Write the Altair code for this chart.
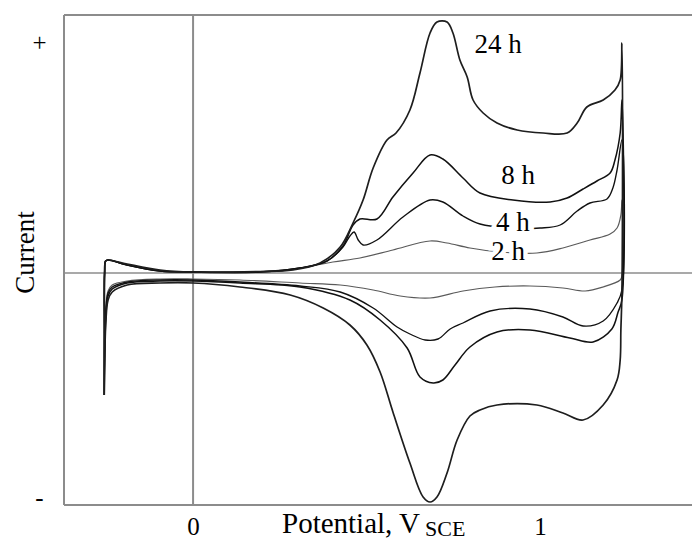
import altair as alt
import pandas as pd

# ---- data (potential in V vs SCE, current in arbitrary units) ----
curves = ["2 h", "4 h", "8 h", "24 h"]

h2_v = [-0.256, -0.2555, -0.255, -0.252, -0.245, -0.190, -0.095, 0.0, 0.193, 0.308, 0.403, 0.481, 0.576,
        0.683, 0.732, 0.798, 0.885, 0.991, 1.066, 1.144, 1.202, 1.222, 1.233, 1.236,
        1.236, 1.231, 1.182, 1.130, 1.066, 0.971, 0.870, 0.778, 0.683, 0.597, 0.519, 0.424, 0.308,
        0.135, 0.0, -0.095, -0.190, -0.233, -0.245, -0.2515, -0.255, -0.256]
h2_i = [-1.22, -0.60, 0.00, 0.12, 0.13, 0.08, 0.02, 0.01, 0.015, 0.05, 0.11, 0.15, 0.23,
        0.32, 0.30, 0.25, 0.21, 0.20, 0.25, 0.33, 0.39, 0.45, 0.58, 0.73,
        -0.03, -0.07, -0.14, -0.18, -0.15, -0.13, -0.14, -0.18, -0.25, -0.23, -0.17, -0.12, -0.10,
        -0.07, -0.06, -0.06, -0.08, -0.12, -0.18, -0.35, -0.80, -1.22]

h4_v = [-0.256, -0.2555, -0.255, -0.252, -0.245, -0.190, -0.095, 0.0, 0.193, 0.308, 0.386, 0.432, 0.452,
        0.464, 0.476, 0.490, 0.530, 0.605, 0.683, 0.720, 0.778, 0.827, 0.914, 1.000, 1.058, 1.107,
        1.144, 1.193, 1.210, 1.222, 1.236,
        1.236, 1.222, 1.182, 1.124, 1.066, 0.971, 0.856, 0.778, 0.741, 0.706, 0.669, 0.625, 0.588,
        0.519, 0.424, 0.308, 0.135, 0.0, -0.095, -0.190, -0.233, -0.245, -0.2515, -0.255, -0.256]
h4_i = [-1.22, -0.60, 0.00, 0.12, 0.13, 0.08, 0.02, 0.01, 0.01, 0.05, 0.12, 0.26, 0.37,
        0.41, 0.33, 0.28, 0.33, 0.56, 0.73, 0.71, 0.57, 0.49, 0.45, 0.45, 0.48, 0.62,
        0.70, 0.74, 0.85, 1.03, 1.33,
        -0.17, -0.30, -0.48, -0.53, -0.44, -0.36, -0.38, -0.50, -0.56, -0.66, -0.67, -0.61, -0.54,
        -0.35, -0.19, -0.13, -0.09, -0.07, -0.07, -0.09, -0.14, -0.20, -0.40, -0.85, -1.22]

h8_v = [-0.256, -0.2555, -0.255, -0.252, -0.245, -0.190, -0.095, 0.0, 0.193, 0.308, 0.386, 0.432, 0.461,
        0.481, 0.530, 0.576, 0.634, 0.683, 0.720, 0.778, 0.827, 0.922, 1.029, 1.078, 1.124, 1.164,
        1.202, 1.216, 1.231, 1.236,
        1.236, 1.225, 1.207, 1.153, 1.086, 0.971, 0.876, 0.798, 0.755, 0.720, 0.692, 0.654, 0.617,
        0.539, 0.452, 0.308, 0.135, 0.0, -0.095, -0.190, -0.233, -0.245, -0.2515, -0.255, -0.256]
h8_i = [-1.22, -0.60, 0.00, 0.12, 0.13, 0.08, 0.02, 0.01, 0.01, 0.05, 0.12, 0.27, 0.48,
        0.54, 0.54, 0.76, 1.00, 1.18, 1.14, 0.95, 0.80, 0.73, 0.71, 0.75, 0.84, 0.92,
        1.00, 1.13, 1.40, 1.73,
        -0.27, -0.39, -0.56, -0.69, -0.65, -0.57, -0.59, -0.74, -0.92, -1.07, -1.10, -1.04, -0.75,
        -0.47, -0.27, -0.14, -0.10, -0.08, -0.08, -0.10, -0.16, -0.23, -0.45, -0.90, -1.22]

h24_v = [-0.256, -0.2555, -0.255, -0.252, -0.245, -0.190, -0.095, 0.0, 0.193, 0.288, 0.366, 0.424, 0.461,
         0.490, 0.519, 0.559, 0.585, 0.625, 0.654, 0.683, 0.703, 0.732, 0.749, 0.769, 0.790, 0.807,
         0.836, 0.876, 0.934, 1.009, 1.078, 1.107, 1.135, 1.182, 1.216, 1.231, 1.236,
         1.236, 1.233, 1.231, 1.222, 1.182, 1.124, 1.066, 0.991, 0.876, 0.827, 0.798, 0.761, 0.732,
         0.703, 0.683, 0.663, 0.625, 0.576, 0.539, 0.501, 0.452, 0.375, 0.280, 0.135, 0.0, -0.095,
         -0.190, -0.233, -0.245, -0.2515, -0.255, -0.256]
h24_i = [-1.22, -0.60, 0.00, 0.12, 0.13, 0.09, 0.03, 0.01, 0.015, 0.03, 0.10, 0.26, 0.50,
         0.73, 1.05, 1.33, 1.40, 1.63, 2.00, 2.40, 2.51, 2.51, 2.40, 2.13, 1.96, 1.73,
         1.60, 1.50, 1.43, 1.40, 1.40, 1.50, 1.66, 1.73, 1.83, 1.93, 2.30,
         -0.20, -0.57, -0.87, -1.07, -1.32, -1.47, -1.40, -1.32, -1.32, -1.37, -1.43, -1.67, -2.00,
         -2.24, -2.29, -2.24, -1.90, -1.39, -0.99, -0.72, -0.52, -0.35, -0.22, -0.14, -0.10, -0.10,
         -0.12, -0.19, -0.27, -0.50, -0.95, -1.22]

label_text = ["24 h", "8 h", "4 h", "2 h"]
label_v = [0.879, 0.937, 0.922, 0.908]
label_i = [2.28, 0.97, 0.50, 0.21]
label_halo = [False, False, True, True]

x_tick_values = [0, 1]
y_tick_values = [2.31, -2.24]
x_domain = [-0.372, 1.438]
y_domain = [-2.32, 2.58]

# ---- build tables ----
rows = []
for name, vs, cs in [("2 h", h2_v, h2_i), ("4 h", h4_v, h4_i), ("8 h", h8_v, h8_i), ("24 h", h24_v, h24_i)]:
    for k, (v, c) in enumerate(zip(vs, cs)):
        rows.append({"curve": name, "V": v, "I": c, "order": k})
df = pd.DataFrame(rows)
labels = pd.DataFrame({"t": label_text, "V": label_v, "I": label_i, "halo": label_halo})

SERIF = "Liberation Serif"
xscale = alt.Scale(domain=x_domain, nice=False, zero=False)
yscale = alt.Scale(domain=y_domain, nice=False, zero=False)

xenc = alt.X("V:Q", scale=xscale,
             axis=alt.Axis(values=x_tick_values, format="d", title=None, ticks=False, tickSize=0,
                           domain=False, grid=False, labelFont=SERIF, labelFontSize=25,
                           labelColor="black", labelPadding=9))
yenc = alt.Y("I:Q", scale=yscale,
             axis=alt.Axis(values=y_tick_values, labelExpr="datum.value > 0 ? '+' : '-'",
                           title="Current", titleFont=SERIF, titleFontSize=27, titleFontWeight="normal",
                           titleColor="black", titleAngle=270, titleAlign="center",
                           titleBaseline="alphabetic", titleX=-31, titleY=237,
                           ticks=False, tickSize=0, domain=False, grid=False,
                           labelFont=SERIF, labelFontSize=25, labelColor="black",
                           labelAlign="center", labelPadding=25))

GREY = "#8c8c8c"
frame_h = alt.Chart(pd.DataFrame({"I": [y_domain[1], y_domain[0]]})).mark_rule(color=GREY, strokeWidth=2).encode(
    y=alt.Y("I:Q", scale=yscale))
frame_v = alt.Chart(pd.DataFrame({"V": [x_domain[0]]})).mark_rule(color=GREY, strokeWidth=2).encode(
    x=alt.X("V:Q", scale=xscale))
zero_v = alt.Chart(pd.DataFrame({"V": [0.0]})).mark_rule(color=GREY, strokeWidth=2).encode(
    x=alt.X("V:Q", scale=xscale))
zero_i = alt.Chart(pd.DataFrame({"I": [0.0]})).mark_rule(color=GREY, strokeWidth=1.5).encode(
    y=alt.Y("I:Q", scale=yscale))

lines = alt.Chart(df).mark_line(interpolate="catmull-rom").encode(
    x=xenc,
    y=yenc,
    color=alt.Color("curve:N", scale=alt.Scale(domain=curves, range=["#5a5a5a", "#111111", "#111111", "#1e1e1e"]), legend=None),
    strokeWidth=alt.StrokeWidth("curve:N", scale=alt.Scale(domain=curves, range=[1.2, 1.7, 1.7, 1.6]), legend=None),
    order=alt.Order("order:Q"),
)

halo = alt.Chart(labels).transform_filter("datum.halo").mark_text(
    font=SERIF, fontSize=27, stroke="white", strokeWidth=9, fill="white", align="center", baseline="middle"
).encode(x=alt.X("V:Q", scale=xscale), y=alt.Y("I:Q", scale=yscale), text="t:N")

label_marks = alt.Chart(labels).mark_text(
    font=SERIF, fontSize=27, color="black", align="center", baseline="middle"
).encode(x=alt.X("V:Q", scale=xscale), y=alt.Y("I:Q", scale=yscale), text="t:N")

xtitle = alt.Chart(pd.DataFrame({"t": ["Potential, V"]})).mark_text(
    font=SERIF, fontSize=29, color="black", align="left", baseline="alphabetic"
).encode(text="t:N", x=alt.value(218), y=alt.value(518))

xsub = alt.Chart(pd.DataFrame({"t": ["SCE"]})).mark_text(
    font=SERIF, fontSize=22, color="black", align="left", baseline="alphabetic"
).encode(text="t:N", x=alt.value(361), y=alt.value(521))

chart = alt.layer(frame_h, frame_v, zero_v, zero_i, lines, halo, label_marks, xtitle, xsub).properties(
    width=628, height=490,
    autosize=alt.AutoSizeParams(type="none"),
    padding={"left": 56, "top": 7, "right": 0, "bottom": 37},
).configure_view(stroke=None)

chart.save("out.html", embed_options={"renderer": "svg", "actions": False})
